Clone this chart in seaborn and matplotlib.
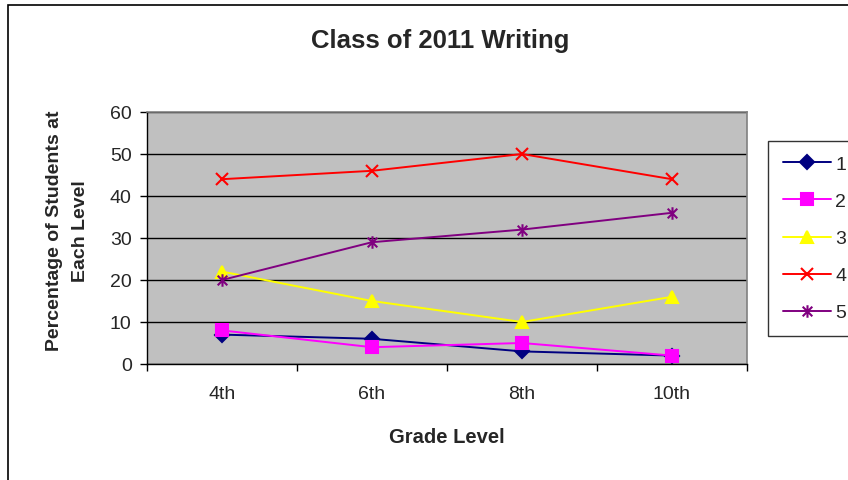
import numpy as np
import pandas as pd
import matplotlib
matplotlib.use("Agg")
import matplotlib.pyplot as plt
from matplotlib.path import Path
from matplotlib.patches import Rectangle
import seaborn as sns

# --- datos ---
grados = ["4th", "6th", "8th", "10th"]
nivel_1 = [7, 6, 3, 2]
nivel_2 = [8, 4, 5, 2]
nivel_3 = [22, 15, 10, 16]
nivel_4 = [44, 46, 50, 44]
nivel_5 = [20, 29, 32, 36]
niveles = ["1", "2", "3", "4", "5"]
series = [nivel_1, nivel_2, nivel_3, nivel_4, nivel_5]

colores = {"1": "#000080", "2": "#FF00FF", "3": "#FFFF00", "4": "#FF0000", "5": "#800080"}

# asterisco estilo Excel: x + linea vertical
asterisco = Path(
    [(-1, -1), (1, 1), (-1, 1), (1, -1), (0, -1.3), (0, 1.3)],
    [Path.MOVETO, Path.LINETO, Path.MOVETO, Path.LINETO, Path.MOVETO, Path.LINETO],
)
marcadores = {"1": "D", "2": "s", "3": "^", "4": "x", "5": asterisco}
tamanos = {"1": 7, "2": 8, "3": 9, "4": 9, "5": 9}

sns.set_theme(style="white")
plt.rcParams["font.family"] = ["Liberation Sans", "DejaVu Sans"]

fig = plt.figure(figsize=(8.48, 4.81), dpi=100)
ax = fig.add_axes([147 / 848, 1 - 365 / 481, 600 / 848, 252 / 481])
ax.set_facecolor("#C0C0C0")

handles = []
for n, valores in zip(niveles, series):
    d = pd.DataFrame({"grado": grados, "valor": valores})
    sns.lineplot(data=d, x="grado", y="valor", color=colores[n], marker=marcadores[n],
                 markersize=tamanos[n], markeredgewidth=1.5, markeredgecolor=colores[n],
                 linewidth=1.4, ax=ax, sort=False)
    handles.append(ax.lines[-1])

# marcos y ejes
ax.set_ylim(0, 60)
ax.set_yticks(np.arange(0, 61, 10))
ax.set_xlim(-0.5, 3.5)
ax.set_xticks(range(4))
ax.set_xticklabels(grados)
ax.set_xticks(np.arange(-0.5, 3.6, 1), minor=True)
ax.tick_params(axis="x", which="major", length=0, pad=15, labelsize=14)
ax.tick_params(axis="x", which="minor", bottom=True, length=5, width=1, color="black", direction="out")
ax.tick_params(axis="y", left=True, length=5, width=1, color="black", direction="out", labelsize=14, pad=6)
ax.yaxis.grid(True, color="black", linewidth=1)
ax.set_axisbelow(True)
for lado in ["top", "right"]:
    ax.spines[lado].set_color("#808080")
    ax.spines[lado].set_linewidth(1.2)
for lado in ["left", "bottom"]:
    ax.spines[lado].set_color("black")
    ax.spines[lado].set_linewidth(1)

ax.set_xlabel("Grade Level", fontsize=14.5, fontweight="bold", labelpad=18)
ax.set_ylabel("Percentage of Students at\nEach Level", fontsize=14, fontweight="bold",
              linespacing=1.7)
ax.yaxis.set_label_coords(-0.097, (365 - 231) / 252)
fig.text(440 / 848, 1 - 41 / 481, "Class of 2011 Writing", ha="center", va="center",
         fontsize=18.5, fontweight="bold")

# leyenda
leg = fig.legend(handles, niveles, loc="upper left", bbox_to_anchor=(768 / 848, 1 - 142 / 481),
                 frameon=True, fancybox=False, fontsize=14, handlelength=2.5,
                 labelspacing=1.0, borderpad=0.75, handletextpad=0.2, borderaxespad=0)
leg.get_frame().set_edgecolor("black")
leg.get_frame().set_linewidth(1)

# marco exterior del grafico
fig.patches.append(Rectangle((8 / 848, -0.1), 1.2, 1.1 - 6 / 481, transform=fig.transFigure,
                             fill=False, edgecolor="black", linewidth=1.2))

fig.savefig("out.png", dpi=100)
